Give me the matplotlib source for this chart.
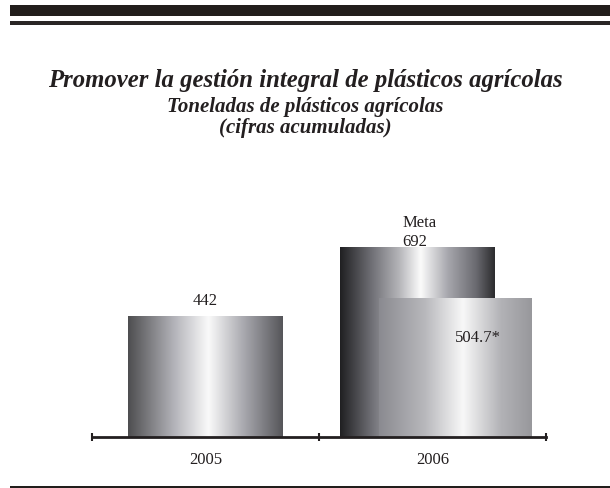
import numpy as np
import matplotlib
matplotlib.use("Agg")
import matplotlib.pyplot as plt
from matplotlib.colors import LinearSegmentedColormap
from matplotlib.patches import Rectangle

years = ["2005", "2006"]
actual = [442, 504.7]
meta_2006 = 692
labels = ["442", "504.7*"]

plt.rcParams['font.family'] = ['Liberation Serif', 'DejaVu Serif']

W, H = 610, 489
fig = plt.figure(figsize=(W / 100, H / 100), dpi=100)

# page rules
fig.add_artist(Rectangle((10 / W, 1 - 17 / H), 600 / W, 11 / H,
                         transform=fig.transFigure, color='#221e1c', lw=0))
fig.add_artist(Rectangle((10 / W, 1 - 25.5 / H), 600 / W, 3.5 / H,
                         transform=fig.transFigure, color='#2a2625', lw=0))
fig.add_artist(Rectangle((10 / W, 1 - 488.5 / H), 600 / W, 1.6 / H,
                         transform=fig.transFigure, color='#221e1c', lw=0))

fig.text(0.5, 1 - 81 / H, "Promover la gestión integral de plásticos agrícolas",
         ha='center', va='center', fontsize=17.8, fontweight='bold', style='italic',
         color='#231f20')
fig.text(0.5, 1 - 107 / H, "Toneladas de plásticos agrícolas",
         ha='center', va='center', fontsize=15, fontweight='bold', style='italic',
         color='#231f20')
fig.text(0.5, 1 - 128 / H, "(cifras acumuladas)",
         ha='center', va='center', fontsize=15, fontweight='bold', style='italic',
         color='#231f20')

# axes: x from -0.5 to 1.5, baseline at pixel 438
ax = fig.add_axes([92 / W, (H - 438) / H, (546 - 92) / W, (438 - 150) / H])
ymax = (438 - 150) / 0.2735

metal_mid = LinearSegmentedColormap.from_list("m1", [
    (0.0, '#4e4e50'), (0.3, '#b4b4ba'), (0.52, '#fafafa'),
    (0.75, '#a8a8ae'), (1.0, '#56565a')])
metal_dark = LinearSegmentedColormap.from_list("m2", [
    (0.0, '#202022'), (0.2, '#6e6e74'), (0.38, '#b4b4b8'), (0.52, '#fbfbfb'),
    (0.7, '#a6a6ac'), (0.88, '#6a6a70'), (1.0, '#2c2c2e')])
metal_light = LinearSegmentedColormap.from_list("m3", [
    (0.0, '#8a8a90'), (0.3, '#b8b8bc'), (0.55, '#f8f8f8'),
    (0.8, '#b2b2b6'), (1.0, '#98989c')])

grad = np.linspace(0, 1, 256).reshape(1, -1)


def metal_bar(x0, x1, h, cmap, z):
    ax.imshow(grad, cmap=cmap, aspect='auto', extent=(x0, x1, 0, h),
              zorder=z, interpolation='bicubic')


bw = 0.68
metal_bar(0 - bw / 2, 0 + bw / 2, actual[0], metal_mid, 2)
metal_bar(0.934 - bw / 2, 0.934 + bw / 2, meta_2006, metal_dark, 2)
metal_bar(1.101 - 0.674 / 2, 1.101 + 0.674 / 2, actual[1], metal_light, 3)
ax.set_xlim(-0.5, 1.5)
ax.set_ylim(0, ymax)

ax.text(0, actual[0] + 58, labels[0], ha='center', va='center', fontsize=12,
        color='#231f20')
ax.text(0.866, meta_2006 + 60, "Meta\n692", ha='left', va='center', fontsize=12,
        linespacing=1.2, color='#231f20')
ax.text(1.2, actual[1] - 139, labels[1], ha='center', va='center', fontsize=12,
        color='#231f20', zorder=6)

for s in ['top', 'left', 'right']:
    ax.spines[s].set_visible(False)
ax.spines['bottom'].set_linewidth(2)
ax.spines['bottom'].set_color('#231f20')
ax.spines['bottom'].set_zorder(5)
ax.set_yticks([])
ax.set_xticks([-0.5, 0.5, 1.5])
ax.set_xticklabels([])
ax.set_xticks([0, 1], minor=True)
ax.set_xticklabels(years, minor=True, fontsize=12, color='#231f20')
ax.tick_params(axis='x', which='major', direction='inout', length=6, width=1.5,
               color='#231f20')
ax.tick_params(axis='x', which='minor', length=0, pad=10)

fig.savefig("out.png", dpi=100)
